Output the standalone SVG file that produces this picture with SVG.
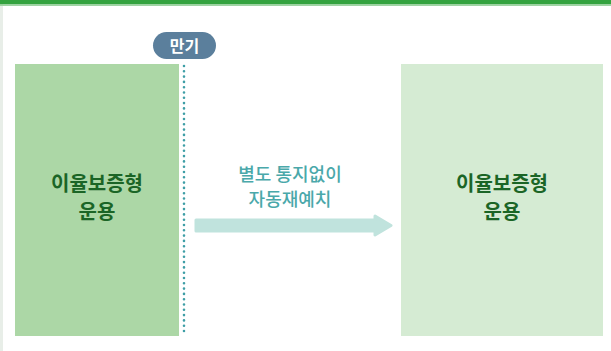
<svg xmlns="http://www.w3.org/2000/svg" width="611" height="351" viewBox="0 0 611 351">
<style>
.box-text{font-family:"Noto Sans CJK KR","Noto Sans",sans-serif;font-weight:700;font-size:20px;fill:#1b6526;text-anchor:middle}
.note{font-family:"Noto Sans CJK KR","Noto Sans",sans-serif;font-weight:500;font-size:18px;fill:#4aa8aa;text-anchor:middle}
</style>
<rect x="0" y="0" width="611" height="351" fill="#ffffff"/>
<rect x="0" y="0" width="3" height="351" fill="#e8eee8"/>
<rect x="0" y="0" width="611" height="4.5" fill="#34a33f"/>
<rect x="0" y="4.5" width="611" height="1.5" fill="#9fd4a3"/>
<g id="node-left">
<rect x="15" y="64" width="164" height="272" fill="#acd7a6"/>
<text class="box-text" x="97" y="191">이율보증형</text>
<text class="box-text" x="97" y="219">운용</text>
</g>
<g id="node-right">
<rect x="401" y="64" width="202" height="272" fill="#d5ebd3"/>
<text class="box-text" x="502" y="191">이율보증형</text>
<text class="box-text" x="502" y="219">운용</text>
</g>
<g id="node-maturity">
<rect x="153" y="32" width="63" height="27" rx="13.5" fill="#5b7f9c"/>
<text x="184.5" y="51.5" font-family="'Noto Sans CJK KR','Noto Sans',sans-serif" font-weight="700" font-size="16" fill="#ffffff" text-anchor="middle">만기</text>
</g>
<g id="connectors">
<line x1="184" y1="66" x2="184" y2="336" stroke="#3e9ea6" stroke-width="2.6" stroke-linecap="round" stroke-dasharray="0 5.3"/>
<path d="M196,220 L375,220 L375,216 L391,225.5 L375,235 L375,231 L196,231 Z" fill="#c0e3dd" stroke="#c0e3dd" stroke-width="3" stroke-linejoin="round"/>
<text class="note" x="290" y="181">별도 통지없이</text>
<text class="note" x="290" y="206">자동재예치</text>
</g>
</svg>
